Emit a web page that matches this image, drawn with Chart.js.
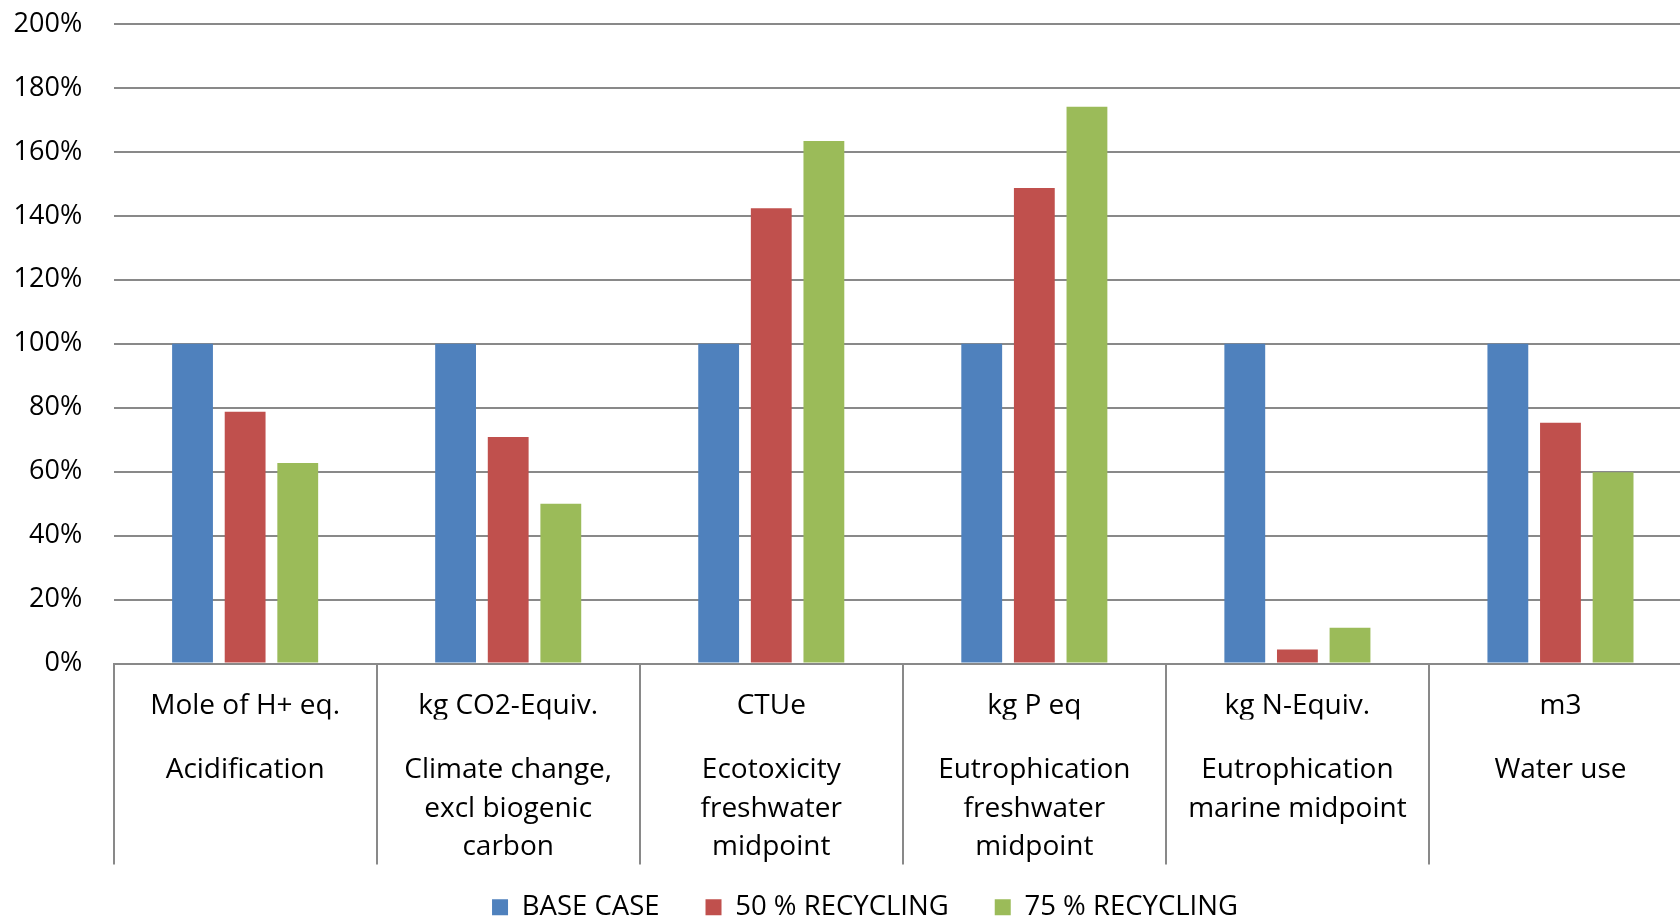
<!DOCTYPE html>
<html>
<head>
<meta charset="utf-8">
<script src="https://cdn.jsdelivr.net/npm/chart.js@4"></script>
<style>
  html, body { margin: 0; padding: 0; background: #fff; overflow: hidden; }
  #wrap { position: absolute; left: -36px; top: -22px; width: 1728px; height: 953px; }
</style>
</head>
<body>
<div id="wrap"><canvas id="grafico"></canvas></div>
<script>
// Chart data
const units = ["Mole of H+ eq.", "kg CO2-Equiv.", "CTUe", "kg P eq", "kg N-Equiv.", "m3"];
const categories = [
    ["Acidification"],
    ["Climate change,", "excl biogenic", "carbon"],
    ["Ecotoxicity", "freshwater", "midpoint"],
    ["Eutrophication", "freshwater", "midpoint"],
    ["Eutrophication", "marine midpoint"],
    ["Water use"]
];
const baseCase = [100, 100, 100, 100, 100, 100];
const recycling50 = [78.7, 70.8, 142.4, 148.7, 4.4, 75.3];
const recycling75 = [62.7, 50, 163.4, 174.1, 11.2, 59.8];
const yTicks = [0, 20, 40, 60, 80, 100, 120, 140, 160, 180, 200];

const fonte = "'Open Sans', sans-serif";
const cinza = "#898989";

const ctx = document.getElementById("grafico").getContext("2d");

new Chart(ctx, {
    type: "bar",
    data: {
        labels: units,
        datasets: [
            { label: "BASE CASE", data: baseCase, backgroundColor: "#4F81BD" },
            { label: "50 % RECYCLING", data: recycling50, backgroundColor: "#C0504D" },
            { label: "75 % RECYCLING", data: recycling75, backgroundColor: "#9BBB59" }
        ]
    },
    options: {
        responsive: true,
        maintainAspectRatio: false,
        animation: false,
        categoryPercentage: 0.6,
        barPercentage: 0.776,
        layout: { padding: { top: 46, left: 74, right: 0, bottom: 0 } },
        plugins: {
            tooltip: { enabled: false },
            legend: {
                position: "bottom",
                labels: {
                    boxWidth: 16,
                    boxHeight: 16,
                    padding: 46,
                    color: "#000",
                    font: { family: fonte, size: 27.5 }
                }
            }
        },
        scales: {
            x: {
                weight: 0,
                offset: true,
                border: { display: true, color: cinza, width: 2 },
                grid: { drawOnChartArea: false, drawTicks: true, tickLength: 201, color: cinza, lineWidth: 2 },
                ticks: {
                    color: "#000",
                    padding: -177.5,
                    maxRotation: 0,
                    autoSkip: false,
                    font: { family: fonte, size: 28, lineHeight: 1.375 }
                },
                afterFit: s => { s.height = 56; }
            },
            // second row of category labels (indicator names)
            x2: {
                type: "category",
                position: "bottom",
                weight: 1,
                offset: true,
                labels: categories,
                border: { display: false },
                grid: { display: false, drawTicks: false },
                ticks: {
                    color: "#000",
                    mirror: true,
                    padding: -70.25,
                    maxRotation: 0,
                    autoSkip: false,
                    font: { family: fonte, size: 28, lineHeight: 1.375 }
                },
                afterFit: s => { s.height = 128; }
            },
            y: {
                min: 0,
                max: 200,
                afterBuildTicks: s => { s.ticks = yTicks.map(v => ({ value: v })); },
                border: { display: false },
                grid: { color: cinza, lineWidth: 2, drawTicks: false },
                ticks: {
                    color: "#000",
                    mirror: true,
                    crossAlign: "far",
                    padding: -100,
                    font: { family: fonte, size: 27 },
                    callback: v => v + "%"
                },
                afterFit: s => { s.width = 75.6; }
            }
        }
    }
});
</script>
</body>
</html>
